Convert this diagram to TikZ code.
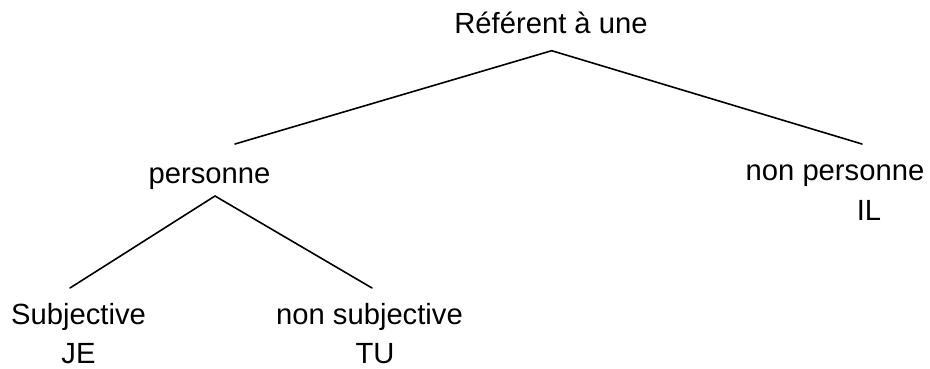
\documentclass[tikz,border=0pt]{standalone}
\usepackage{fontspec}
\setmainfont{Liberation Sans}
\begin{document}
\begin{tikzpicture}[x=1pt,y=1pt,
  lbl/.style={inner sep=0pt,anchor=base,font=\fontsize{29.2}{31}\selectfont},
  branch/.style={line width=1.6pt,line cap=round}]
\useasboundingbox (0,0) rectangle (930,368);
\node[lbl] (root) at (551,335) {Référent à une};
\node[lbl] (pers) at (209.5,185) {personne};
\node[lbl] (nonpers) at (835,188) {non personne};
\node[lbl] (il) at (869,148) {IL};
\node[lbl] (subj) at (78.5,44) {Subjective};
\node[lbl] (je) at (78.5,4.5) {JE};
\node[lbl] (nsubj) at (369.5,44) {non subjective};
\node[lbl] (tu) at (375,4.5) {TU};
\coordinate (apex) at (551.7,317.3);
\coordinate (persTop) at (235,224);
\coordinate (nonpersTop) at (862,224);
\coordinate (persBot) at (215,172);
\coordinate (subjTop) at (70,80);
\coordinate (nsubjTop) at (372,80);
\draw[branch] (persTop) -- (apex) -- (nonpersTop);
\draw[branch] (subjTop) -- (persBot) -- (nsubjTop);
\end{tikzpicture}
\end{document}
